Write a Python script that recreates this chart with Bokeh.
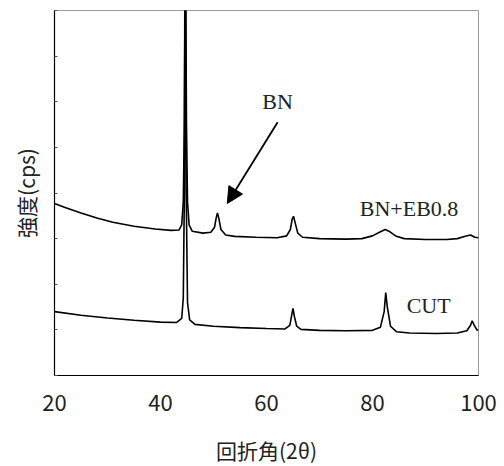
from bokeh.plotting import figure
from bokeh.models import Arrow, NormalHead, Label, FixedTicker, Range1d
from bokeh.embed import file_html
from bokeh.resources import INLINE

# 2-theta (deg) and intensity (arbitrary units) for the BN+EB0.8 pattern
bn_theta = [20, 22, 25, 28, 31, 35, 39, 42, 43.5, 44.0, 44.3, 44.5, 44.65, 44.75, 44.9, 45.1,
            45.4, 46, 48, 49.5, 50.2, 50.5, 50.75, 51.0, 51.4, 52.3, 54, 58, 62, 63.8, 64.5,
            64.85, 65.1, 65.4, 65.9, 66.8, 70, 75, 78, 80, 81.5, 82.4, 83.3, 84.5, 86, 90,
            94, 96, 97.5, 98.5, 99.3, 100]
bn_int = [3.77, 3.68, 3.56, 3.45, 3.36, 3.27, 3.21, 3.18, 3.19, 3.30, 3.80, 5.50, 9.00, 9.00, 5.50, 3.80,
          3.30, 3.16, 3.12, 3.14, 3.25, 3.45, 3.56, 3.45, 3.20, 3.08, 3.05, 3.03, 3.02, 3.06, 3.20,
          3.43, 3.49, 3.35, 3.12, 3.03, 3.00, 2.99, 3.00, 3.06, 3.15, 3.20, 3.15, 3.05, 3.00, 2.98,
          2.98, 3.00, 3.05, 3.08, 3.03, 3.02]

# 2-theta (deg) and intensity for the CUT pattern
cut_theta = [20, 25, 30, 35, 40, 43, 44.0, 44.3, 44.5, 44.6, 44.7, 44.85, 45.1, 45.5, 46.5, 50,
             55, 60, 63.5, 64.4, 64.8, 65.0, 65.25, 65.7, 66.5, 70, 75, 80, 81.5, 82.2, 82.5,
             82.8, 83.4, 84.5, 87, 92, 96, 97.8, 98.5, 98.8, 99.2, 99.7, 100]
cut_int = [1.40, 1.32, 1.26, 1.21, 1.17, 1.16, 1.25, 1.70, 4.00, 9.00, 9.00, 4.00, 1.60, 1.22, 1.12, 1.08,
           1.05, 1.03, 1.02, 1.10, 1.35, 1.47, 1.30, 1.08, 1.01, 0.99, 0.98, 0.99, 1.06, 1.40, 1.82,
           1.50, 1.08, 0.96, 0.93, 0.92, 0.93, 0.98, 1.10, 1.20, 1.10, 1.00, 0.99]

x_ticks = [20, 40, 60, 80, 100]
y_ticks = [0, 1, 2, 3, 4, 5, 6, 7, 8]

p = figure(frame_width=424, frame_height=365, min_border_left=54, min_border_top=10,
           min_border_right=20, min_border_bottom=85,
           x_range=Range1d(20, 100), y_range=Range1d(0, 8),
           output_backend="svg", toolbar_location=None)
p.background_fill_color = "white"
p.border_fill_color = "white"
p.outline_line_color = "#999999"
p.xgrid.visible = False
p.ygrid.visible = False

p.line(bn_theta, bn_int, line_color="black", line_width=1.6)
p.line(cut_theta, cut_int, line_color="black", line_width=1.6)

# x axis
p.xaxis.ticker = FixedTicker(ticks=x_ticks)
p.xaxis.major_tick_in = 0
p.xaxis.major_tick_out = 0
p.xaxis.minor_tick_in = 0
p.xaxis.minor_tick_out = 0
p.xaxis.axis_line_color = "black"
p.xaxis.axis_line_width = 1.2
p.xaxis.major_label_standoff = 19
p.xaxis.major_label_text_font = "Noto Sans CJK JP"
p.xaxis.major_label_text_font_size = "22px"
p.xaxis.major_label_text_color = "#222222"
p.xaxis.axis_label = "回折角(2θ)"
p.xaxis.axis_label_text_font = "Noto Sans CJK JP"
p.xaxis.axis_label_text_font_style = "normal"
p.xaxis.axis_label_text_font_size = "21px"
p.xaxis.axis_label_text_color = "#222222"
p.xaxis.axis_label_standoff = 21

# y axis (inward ticks, no labels)
p.yaxis.ticker = FixedTicker(ticks=y_ticks)
p.yaxis.major_label_overrides = {t: "" for t in y_ticks}
p.yaxis.major_tick_in = 3
p.yaxis.major_tick_out = 0
p.yaxis.minor_tick_in = 0
p.yaxis.minor_tick_out = 0
p.yaxis.major_tick_line_color = "#555555"
p.yaxis.axis_line_color = "black"
p.yaxis.axis_line_width = 1.2
p.yaxis.major_label_standoff = 0
p.yaxis.axis_label = "強度(cps)"
p.yaxis.axis_label_text_font = "Noto Sans CJK JP"
p.yaxis.axis_label_text_font_style = "normal"
p.yaxis.axis_label_text_font_size = "21px"
p.yaxis.axis_label_text_color = "#222222"
p.yaxis.axis_label_standoff = 14

# annotations
p.add_layout(Arrow(end=NormalHead(size=16, fill_color="black", line_color="black"),
                   x_start=62.1, y_start=5.55, x_end=52.6, y_end=3.77,
                   line_color="black", line_width=1.8))
for txt, xx, yy in [("BN", 62.1, 6.0), ("BN+EB0.8", 86.9, 3.66), ("CUT", 90.6, 1.53)]:
    p.add_layout(Label(x=xx, y=yy, text=txt, text_font="Liberation Serif",
                       text_font_size="22px", text_align="center", text_baseline="middle",
                       text_color="#222222"))

open("out.html", "w").write(file_html(p, INLINE))
